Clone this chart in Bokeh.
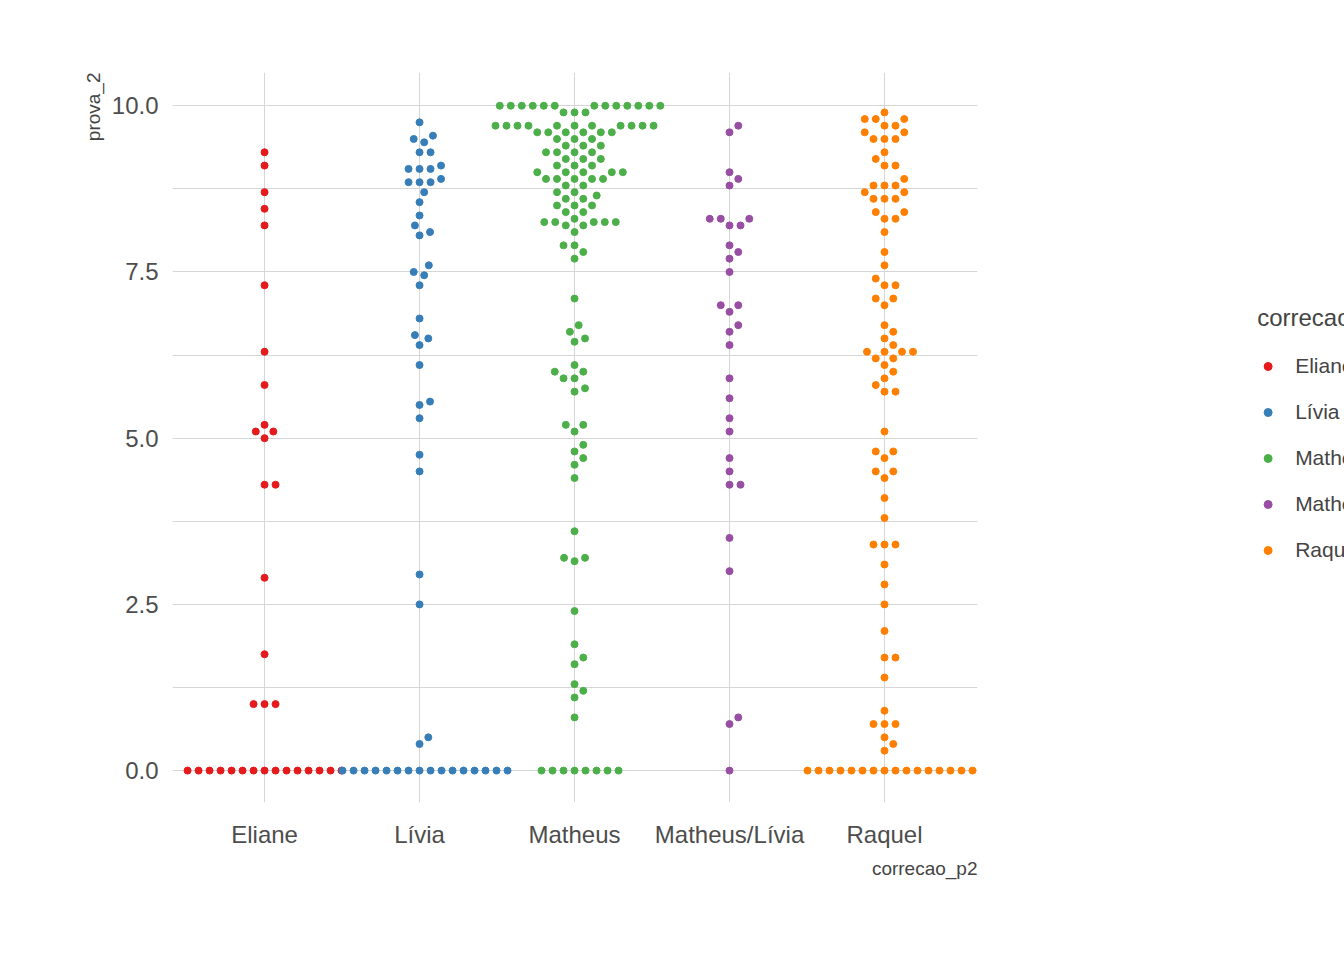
import numpy as np

from bokeh.embed import file_html
from bokeh.models import (ColumnDataSource, FixedTicker, Legend, LegendItem,
                          Range1d, Title)
from bokeh.plotting import figure
from bokeh.resources import INLINE

categories = ["Eliane", "Lívia", "Matheus", "Matheus/Lívia", "Raquel"]
colors = ["#E41A1C", "#377EB8", "#4DAF4A", "#984EA3", "#FF7F00"]

eliane = [9.3, 9.1, 8.7, 8.45, 8.2, 7.3, 6.3, 5.8, 5.2, 5.1, 5.1, 5.0,
          4.3, 4.3, 2.9, 1.75, 1.0, 1.0, 1.0] + [0.0] * 15
livia = [9.75, 9.55, 9.5, 9.45, 9.3, 9.3, 9.1, 9.05, 9.05, 9.05, 8.9,
         8.85, 8.85, 8.85, 8.7, 8.55, 8.35, 8.2, 8.1, 8.05, 7.6, 7.5, 7.45,
         7.3, 6.8, 6.55, 6.5, 6.4, 6.1, 5.55, 5.5, 5.3, 4.75, 4.5, 2.95,
         2.5, 0.5, 0.4] + [0.0] * 16
matheus = ([10.0] * 13 + [9.9] * 3 + [9.7] * 11 + [9.6] * 6 + [9.5] * 3 +
           [9.4] * 3 + [9.3] * 4 + [9.2] * 3 + [9.1] * 3 + [9.0] * 5 +
           [8.9] * 5 + [8.8] * 2 + [8.7] * 2 + [8.65] + [8.6] * 2 +
           [8.5] * 3 + [8.4] * 2 + [8.3] + [8.25] * 5 + [8.2] * 2 + [8.1] +
           [7.9] * 2 + [7.8, 7.7, 7.1, 6.7, 6.6, 6.5, 6.45, 6.1, 6.0, 6.0,
                        5.9, 5.9, 5.75, 5.7, 5.2, 5.2, 5.1, 4.9, 4.8, 4.7,
                        4.6, 4.4, 3.6, 3.2, 3.2, 3.15, 2.4, 1.9, 1.7, 1.6,
                        1.3, 1.2, 1.1, 0.8] + [0.0] * 8)
matheus_livia = [9.7, 9.6, 9.0, 8.9, 8.8, 8.3, 8.3, 8.3, 8.2, 8.2, 7.9, 7.8,
                 7.7, 7.5, 7.0, 7.0, 6.9, 6.7, 6.6, 6.4, 5.9, 5.6, 5.3, 5.1,
                 4.7, 4.5, 4.3, 4.3, 3.5, 3.0, 0.8, 0.7, 0.0]
raquel = [9.9, 9.8, 9.8, 9.8, 9.7, 9.7, 9.6, 9.6, 9.5, 9.5, 9.5, 9.3, 9.2,
          9.1, 9.1, 8.9, 8.8, 8.8, 8.8, 8.7, 8.7, 8.6, 8.6, 8.6, 8.4, 8.4,
          8.3, 8.3, 8.1, 7.8, 7.6, 7.4, 7.3, 7.3, 7.1, 7.1, 7.0, 6.7, 6.6,
          6.5, 6.4, 6.3, 6.3, 6.3, 6.3, 6.2, 6.2, 6.1, 6.0, 5.9, 5.8, 5.7,
          5.7, 5.1, 4.8, 4.8, 4.7, 4.5, 4.5, 4.4, 4.1, 3.8, 3.4, 3.4, 3.4,
          3.1, 2.8, 2.5, 2.1, 1.7, 1.7, 1.4, 0.9, 0.7, 0.7, 0.7, 0.5, 0.4,
          0.3] + [0.0] * 16
groups = [eliane, livia, matheus, matheus_livia, raquel]

# pixel scales of the frame, used to lay out the swarm
PX_X = 155.0   # px per category
PX_Y = 66.5    # px per score unit
DIAM = 11.0    # px between point centres


def swarm(values):
    ys = np.sort(np.array(values, dtype=float)) * PX_Y
    placed = []
    offsets = np.zeros(len(ys))
    for i, y in enumerate(ys):
        cands = [0.0]
        for px, py in placed:
            dy = abs(y - py)
            if dy < DIAM:
                dx = np.sqrt(DIAM ** 2 - dy ** 2)
                cands += [px + dx, px - dx]
        best = 0.0
        for c in sorted(cands, key=abs):
            if all((c - px) ** 2 + (y - py) ** 2 >= DIAM ** 2 - 1e-6
                   for px, py in placed):
                best = c
                break
        placed.append((best, y))
        offsets[i] = best
    return offsets / PX_X, ys / PX_Y


p = figure(frame_width=805, frame_height=730, output_backend="svg",
           toolbar_location=None, tools="",
           x_range=Range1d(0.406, 5.6), y_range=Range1d(-0.48, 10.5),
           min_border_left=172, min_border_right=20,
           min_border_top=72, min_border_bottom=110)
p.outline_line_color = None

for ax in (p.xaxis, p.yaxis):
    ax.axis_line_color = None
    ax.major_tick_line_color = None
    ax.minor_tick_line_color = None
    ax.major_label_text_font = "Liberation Sans"
    ax.major_label_text_font_size = "24px"
    ax.major_label_text_color = "#4d4d4d"
p.xaxis.ticker = FixedTicker(ticks=[1, 2, 3, 4, 5])
p.xaxis.major_label_overrides = {i + 1: c for i, c in enumerate(categories)}
p.xaxis.major_label_standoff = 12
p.yaxis.ticker = FixedTicker(ticks=[0, 2.5, 5, 7.5, 10],
                             minor_ticks=[1.25, 3.75, 6.25, 8.75])
p.yaxis.major_label_overrides = {0: "0.0", 2.5: "2.5", 5: "5.0",
                                 7.5: "7.5", 10: "10.0"}
p.yaxis.major_label_standoff = 8
p.xgrid.grid_line_color = "#d6d6d6"
p.ygrid.grid_line_color = "#d6d6d6"
p.ygrid.minor_grid_line_color = "#d6d6d6"

items = []
for i, (vals, col, name) in enumerate(zip(groups, colors, categories)):
    dx, ys = swarm(vals)
    src = ColumnDataSource(dict(x=dx + i + 1, y=ys))
    r = p.scatter("x", "y", source=src, size=7, color=col)
    items.append(LegendItem(label=name, renderers=[r]))

legend = Legend(items=items, location="center", title="correcao_p2",
                title_text_font="Liberation Sans", title_text_font_size="24px",
                title_text_font_style="normal", title_standoff=14,
                label_text_font="Liberation Sans", label_text_font_size="21px",
                label_height=40, glyph_height=40, glyph_width=20, spacing=6,
                label_standoff=18, border_line_color=None, margin=40,
                padding=5, background_fill_alpha=0)
p.add_layout(legend, "right")

p.add_layout(Title(text="prova_2", align="right", text_font="Liberation Sans",
                   text_font_size="19px", text_font_style="normal",
                   offset=0), "left")
p.add_layout(Title(text="correcao_p2", align="right",
                   text_font="Liberation Sans", text_font_size="19px",
                   text_font_style="normal"), "below")

open("out.html", "w").write(file_html(p, INLINE))
